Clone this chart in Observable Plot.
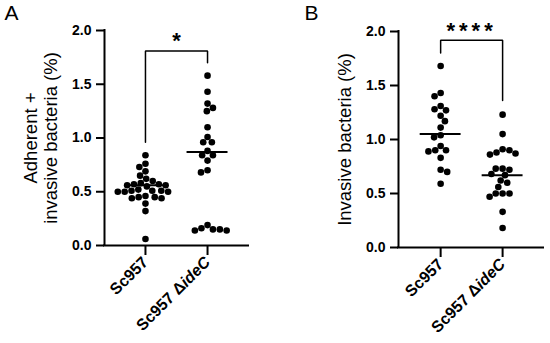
<!DOCTYPE html>
<html>
<head>
<meta charset="utf-8">
<script src="https://cdn.jsdelivr.net/npm/d3@7"></script>
<script src="https://cdn.jsdelivr.net/npm/@observablehq/plot@0.6"></script>
<style>
  html, body { margin: 0; padding: 0; background: #fff; }
  #chart { position: relative; width: 550px; height: 343px; display: flex; }
  #chart svg { display: block; }
</style>
</head>
<body>
<div id="chart"></div>
<script>
// ---- data ----
const categories = ["Sc957", "Sc957 ΔideC"];
const yTicks = [0, 0.5, 1.0, 1.5, 2.0];

// Panel A: adherent + invasive bacteria (%)
const adhSc957 = [0.84, 0.76, 0.73, 0.69, 0.65, 0.62, 0.60, 0.58, 0.57, 0.57, 0.56, 0.56, 0.55, 0.52,
                  0.51, 0.51, 0.51, 0.50, 0.50, 0.50, 0.46, 0.45, 0.45, 0.44, 0.44, 0.39, 0.32, 0.06];
const adhIdeC  = [1.58, 1.43, 1.32, 1.28, 1.25, 1.10, 1.01, 0.96, 0.96, 0.88, 0.84, 0.84, 0.79, 0.70,
                  0.68, 0.19, 0.16, 0.15, 0.15, 0.14, 0.14];
const adhMedians = [0.56, 0.87];
const adhBracket = [0.96, 1.81, 1.70];   // left leg bottom, top, right leg bottom
const adhSig = "*";
const adhSigY = 1.84;

// Panel B: invasive bacteria (%)
const invSc957 = [1.68, 1.43, 1.40, 1.31, 1.28, 1.27, 1.22, 1.17, 1.11, 1.04, 1.02, 0.94, 0.90, 0.90,
                  0.89, 0.83, 0.72, 0.70, 0.59];
const invIdeC  = [1.23, 1.05, 0.91, 0.90, 0.88, 0.87, 0.86, 0.73, 0.73, 0.72, 0.68, 0.67, 0.62, 0.60,
                  0.56, 0.50, 0.50, 0.50, 0.47, 0.33, 0.18];
const invMedians = [1.05, 0.67];
const invBracket = [1.80, 1.92, 1.36];
const invSig = "****";
const invSigY = 1.94;

const titleA = "Adherent +\ninvasive bacteria (%)";
const titleB = "Invasive bacteria (%)";

const FONT = "'Liberation Sans', Arial, Helvetica, sans-serif";

// simple beeswarm in pixel space -> offsets in x units
function swarm(values, idx, pxPerX, pxPerY, d) {
  const order = values.map((v, i) => i).sort((a, b) => values[b] - values[a]);
  const placed = [];
  const out = new Array(values.length);
  let flip = 1;
  for (const i of order) {
    const y = values[i] * pxPerY;
    const iv = [];
    for (const p of placed) {
      const dy = Math.abs(p.y - y);
      if (dy < d) { const w = Math.sqrt(d * d - dy * dy); iv.push([p.x - w, p.x + w]); }
    }
    const cands = [0];
    iv.forEach(([a, b]) => cands.push(a, b));
    cands.sort((a, b) => (Math.abs(a) - Math.abs(b)) || (flip * (a - b)));
    const x = cands.find(c => iv.every(([a, b]) => c <= a + 1e-6 || c >= b - 1e-6));
    flip = -flip;
    placed.push({x, y});
    out[i] = {x: idx + x / pxPerX, v: values[i]};
  }
  return out;
}

function panel(o) {
  const width = 275, height = 343;
  const pxPerX = (width - o.ml - o.mr) / (o.xd[1] - o.xd[0]);
  const pxPerY = (height - o.mt - o.mb) / 2;
  const pts = [
    ...swarm(o.groups[0], 0, pxPerX, pxPerY, 6.9),
    ...swarm(o.groups[1], 1, pxPerX, pxPerY, 6.9)
  ];
  const med = o.medians.map((m, i) => ({i, m}));
  const br = o.bracket;
  const brPts = [{x: 0, y: br[0]}, {x: 0, y: br[1]}, {x: 1, y: br[1]}, {x: 1, y: br[2]}];
  return Plot.plot({
    width, height,
    marginLeft: o.ml, marginRight: o.mr, marginTop: o.mt, marginBottom: o.mb,
    style: {fontFamily: FONT, color: "#000", background: "#fff", overflow: "visible"},
    x: {domain: o.xd, axis: null},
    y: {domain: [0, 2], axis: null},
    marks: [
      Plot.ruleY([0], {stroke: "#000", strokeWidth: 2, strokeLinecap: "square"}),
      Plot.ruleX([o.xd[0]], {stroke: "#000", strokeWidth: 2, strokeLinecap: "square"}),
      Plot.axisY(yTicks, {tickSize: 8, tickPadding: 5, tickFormat: d3.format(".1f"),
        fontWeight: "bold", fontSize: 14, strokeWidth: 2, label: null}),
      Plot.axisX([0, 1], {tickSize: 10, tickPadding: 4, tickRotate: -45,
        tickFormat: i => categories[i], fontWeight: "bold", fontSize: 16, strokeWidth: 2, label: null}),
      Plot.dot(pts, {x: "x", y: "v", r: 3.3, fill: "#000", stroke: null}),
      Plot.ruleY(med, {y: "m", x1: d => d.i - 0.33, x2: d => d.i + 0.33, stroke: "#000", strokeWidth: 2}),
      Plot.line(brPts, {x: "x", y: "y", stroke: "#000", strokeWidth: 1.5, strokeLinejoin: "miter"}),
      Plot.text([o.sig], {x: () => 0.5, y: () => o.sigY, text: d => d, fontSize: 22, fontWeight: "bold",
        lineAnchor: "bottom", dy: 0}),
      Plot.text([o.title], {frameAnchor: "left", text: d => d, rotate: -90, dx: o.titleDx,
        fontSize: 18.5, lineHeight: 1.08, lineAnchor: "middle", textAnchor: "middle"}),
      Plot.text([o.letter], {frameAnchor: "top-left", text: d => d, dx: o.letterDx, dy: o.letterDy,
        fontSize: 21, textAnchor: "start", lineAnchor: "top"})
    ]
  });
}

const svgA = panel({groups: [adhSc957, adhIdeC], medians: adhMedians, bracket: adhBracket,
  sig: adhSig, sigY: adhSigY, title: titleA, letter: "A",
  ml: 104, mr: 27, mt: 30, mb: 98, xd: [-0.66, 1.66], titleDx: -64, letterDx: -100, letterDy: -25});
const svgB = panel({groups: [invSc957, invIdeC], medians: invMedians, bracket: invBracket,
  sig: invSig, sigY: invSigY, title: titleB, letter: "B",
  ml: 123, mr: 7, mt: 31, mb: 96, xd: [-0.68, 1.66], titleDx: -54, letterDx: -94, letterDy: -26});

const chart = document.getElementById("chart");
chart.appendChild(svgA);
chart.appendChild(svgB);

// italic gene name in the category label, letter spacing for the stars
for (const svg of [svgA, svgB]) {
  d3.select(svg).selectAll("text").each(function () {
    const t = this.textContent;
    if (t === "Sc957 ΔideC") {
      const s = d3.select(this);
      s.text(null);
      s.append("tspan").text("Sc957 Δ");
      s.append("tspan").attr("font-style", "italic").text("ideC");
    } else if (t === "****") {
      d3.select(this).attr("letter-spacing", "4px");
    }
  });
}
</script>
</body>
</html>
